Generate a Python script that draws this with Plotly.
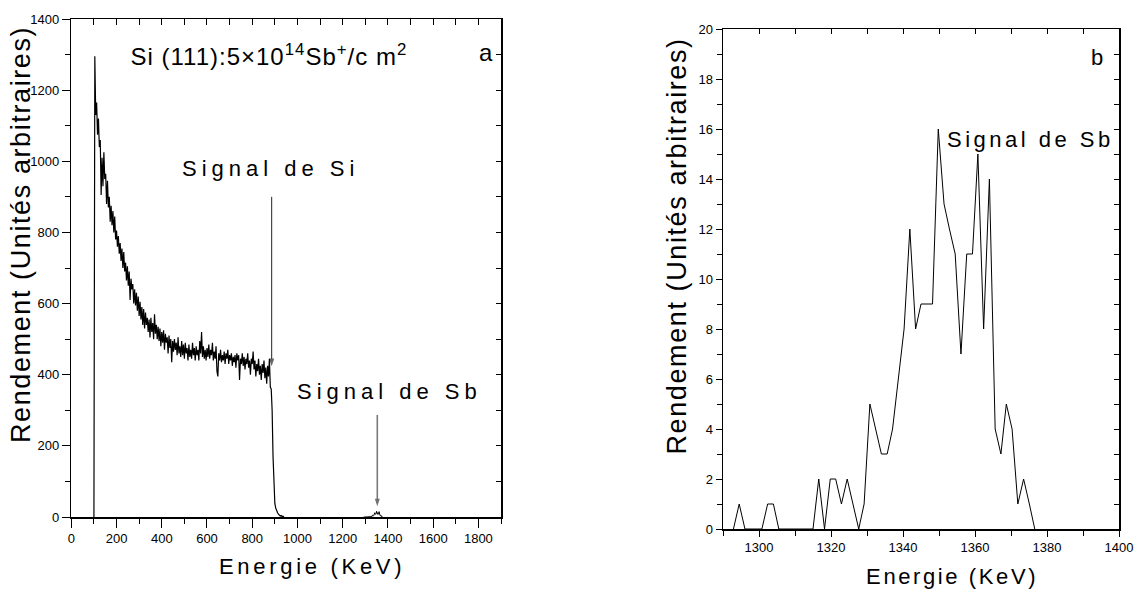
import plotly.graph_objects as go

# ---------------- Data ----------------
# Panel a: RBS spectrum, channels every 4 keV starting at 100 keV
spectrum_start_kev = 100
spectrum_step_kev = 4
spectrum_counts = [
    0, 1295, 1130, 1165, 1075, 1120, 1040, 1060, 905, 1010,
    930, 1025, 950, 965, 880, 945, 870, 900, 830, 875,
    820, 860, 800, 845, 780, 805, 760, 790, 740, 770,
    720, 755, 700, 745, 690, 715, 665, 705, 650, 690,
    610, 670, 640, 655, 600, 640, 595, 630, 580, 620,
    565, 605, 555, 590, 540, 585, 530, 575, 540, 560,
    520, 555, 505, 560, 520, 545, 500, 570, 515, 540,
    500, 535, 495, 530, 480, 520, 490, 525, 470, 515,
    490, 505, 460, 510, 475, 500, 435, 495, 465, 500,
    470, 490, 455, 505, 460, 480, 450, 495, 455, 485,
    445, 490, 460, 475, 440, 485, 450, 470, 445, 490,
    455, 475, 440, 480, 455, 470, 440, 495, 460, 520,
    450, 480, 445, 470, 440, 475, 450, 485, 445, 470,
    455, 490, 440, 465, 445, 480, 410, 395, 460, 440,
    470, 435, 455, 440, 465, 430, 460, 445, 470, 430,
    455, 440, 460, 425, 450, 435, 455, 420, 460, 440,
    455, 385, 445, 430, 460, 425, 450, 415, 445, 430,
    460, 420, 440, 400, 445, 430, 465, 415, 440, 395,
    430, 410, 445, 400, 425, 385, 430, 405, 440, 390,
    420, 375, 425, 395, 445, 365, 360, 300, 170, 80,
    38, 25, 15, 12, 8, 6, 3, 4, 1, 2,
    0,
]

# Panel b: Sb signal (zoom of the same spectrum)
sb_energy = [
    1292.9, 1294.5, 1296.1, 1297.6, 1299.2, 1300.8, 1302.4, 1304.0, 1305.5, 1307.1,
    1308.7, 1310.3, 1311.9, 1313.4, 1315.0, 1316.6, 1318.2, 1319.8, 1321.3, 1322.9,
    1324.5, 1326.1, 1327.7, 1329.2, 1330.8, 1332.4, 1334.0, 1335.6, 1337.1, 1338.7,
    1340.3, 1341.9, 1343.5, 1345.0, 1346.6, 1348.2, 1349.8, 1351.4, 1352.9, 1354.5,
    1356.1, 1357.7, 1359.3, 1360.8, 1362.4, 1364.0, 1365.6, 1367.2, 1368.7, 1370.3,
    1371.9, 1373.5, 1375.1, 1376.6,
]
sb_counts = [
    0, 1, 0, 0, 0, 0, 1, 1, 0, 0,
    0, 0, 0, 0, 0, 2, 0, 2, 2, 1,
    2, 1, 0, 1, 5, 4, 3, 3, 4, 6,
    8, 12, 8, 9, 9, 9, 16, 13, 12, 11,
    7, 11, 11, 15, 8, 14, 4, 3, 5, 4,
    1, 2, 1, 0,
]

left_xticks = [0, 200, 400, 600, 800, 1000, 1200, 1400, 1600, 1800]
left_yticks = [0, 200, 400, 600, 800, 1000, 1200, 1400]
right_xticks = [1300, 1320, 1340, 1360, 1380, 1400]
right_yticks = [0, 2, 4, 6, 8, 10, 12, 14, 16, 18, 20]
left_xrange = [0, 1900]
left_yrange = [0, 1400]
right_xrange = [1290, 1400]
right_yrange = [0, 20]

# Arrow annotations (data units): energy, tail height, head height
si_arrow_energy = [886, 886]
si_arrow_y = [900, 424]
sb_arrow_energy = [1353, 1353]
sb_arrow_y = [287, 30]

# ---------------- Figure ----------------
FONT = "Arial, 'Liberation Sans', sans-serif"
W, H = 1141, 592

fig = go.Figure()

# left panel: spectrum on base axes, Sb bump on overlay axes (top/right inside ticks)
fig.add_trace(go.Scatter(
    x0=spectrum_start_kev, dx=spectrum_step_kev, y=spectrum_counts,
    mode="lines", line=dict(color="black", width=1.2),
    xaxis="x", yaxis="y", showlegend=False, hoverinfo="skip"))
fig.add_trace(go.Scatter(
    x=sb_energy, y=sb_counts, mode="lines",
    line=dict(color="black", width=1),
    xaxis="x3", yaxis="y3", showlegend=False, hoverinfo="skip"))
# arrows
fig.add_trace(go.Scatter(
    x=si_arrow_energy, y=si_arrow_y, mode="lines+markers",
    line=dict(color="#222222", width=1),
    marker=dict(symbol="arrow", angleref="previous", size=[0, 8],
                color="#222222", line=dict(width=0)),
    xaxis="x", yaxis="y", showlegend=False, hoverinfo="skip"))
fig.add_trace(go.Scatter(
    x=sb_arrow_energy, y=sb_arrow_y, mode="lines+markers",
    line=dict(color="#7a7a7a", width=1.6),
    marker=dict(symbol="arrow", angleref="previous", size=[0, 8],
                color="#333333", line=dict(width=0)),
    xaxis="x", yaxis="y", showlegend=False, hoverinfo="skip"))

# right panel
fig.add_trace(go.Scatter(
    x=sb_energy, y=sb_counts, mode="lines",
    line=dict(color="black", width=1),
    xaxis="x2", yaxis="y2", showlegend=False, hoverinfo="skip"))
fig.add_trace(go.Scatter(
    x=sb_energy, y=sb_counts, mode="lines",
    line=dict(color="rgba(0,0,0,0)", width=1),
    xaxis="x4", yaxis="y4", showlegend=False, hoverinfo="skip"))

tickfont = dict(family=FONT, size=13, color="black")

left_dom_x = [71.3 / W, 501 / W]
left_dom_y = [(H - 517) / H, (H - 19) / H]
right_dom_x = [723 / W, 1119 / W]
right_dom_y = [(H - 529) / H, (H - 29) / H]

common_axis = dict(showgrid=False, zeroline=False, showline=True,
                   linecolor="black", linewidth=1.5, mirror=True,
                   tickcolor="black", tickwidth=1, tickfont=tickfont,
                   ticks="outside", automargin=False)
overlay_axis = dict(showgrid=False, zeroline=False, showline=False,
                    showticklabels=False, ticks="inside", tickcolor="black",
                    tickwidth=1, automargin=False)

fig.update_layout(
    width=W, height=H,
    margin=dict(l=0, r=0, t=0, b=0, autoexpand=False),
    paper_bgcolor="white", plot_bgcolor="white",
    font=dict(family=FONT, color="black"),
    xaxis=dict(common_axis, domain=left_dom_x, anchor="y", range=left_xrange,
               tickvals=left_xticks, ticklen=9,
               minor=dict(dtick=100, tick0=0, ticks="outside", ticklen=5,
                          tickcolor="black")),
    yaxis=dict(common_axis, domain=left_dom_y, anchor="x", range=left_yrange,
               tickvals=left_yticks, ticklen=8,
               minor=dict(dtick=100, tick0=0, ticks="outside", ticklen=5,
                          tickcolor="black")),
    xaxis2=dict(common_axis, domain=right_dom_x, anchor="y2", range=right_xrange,
                tickvals=right_xticks, ticklen=6,
                minor=dict(dtick=10, tick0=1290, ticks="outside", ticklen=5,
                           tickcolor="black")),
    yaxis2=dict(common_axis, domain=right_dom_y, anchor="x2", range=right_yrange,
                tickvals=right_yticks, ticklen=6,
                minor=dict(dtick=1, tick0=0, ticks="outside", ticklen=5,
                           tickcolor="black")),
    xaxis3=dict(overlay_axis, overlaying="x", side="top", anchor="y3",
                range=left_xrange, ticklen=6, dtick=100, tick0=0),
    yaxis3=dict(overlay_axis, overlaying="y", side="right", anchor="x3",
                range=left_yrange, ticklen=5, dtick=100, tick0=0),
    xaxis4=dict(overlay_axis, overlaying="x2", side="top", anchor="y4",
                range=right_xrange, ticklen=5, dtick=10, tick0=1290),
    yaxis4=dict(overlay_axis, overlaying="y2", side="right", anchor="x4",
                range=right_yrange, ticklen=5, dtick=1, tick0=0),
)

def txt(text, x, y, size, xref="x", yref="y", angle=0):
    return dict(text=text, x=x, y=y, xref=xref, yref=yref, showarrow=False,
                xanchor="center", yanchor="middle", textangle=angle,
                font=dict(family=FONT, size=size, color="black"))

annotations = [
    # 0
    txt("Si (111):5×10<sup>14</sup>Sb<sup>+</sup>/c m<sup>2</sup>", 873, 1300, 24),
    # 1
    txt("a", 1834, 1305, 24),
    # 2
    txt("Signal de Si", 879, 979, 22),
    # 3
    txt("Signal de Sb", 1405, 352, 22),
    # 4
    txt("b", 1394.0, 18.85, 22, xref="x2", yref="y2"),
    # 5
    txt("Signal de Sb", 1375.3, 15.57, 22, xref="x2", yref="y2"),
    # 6 left x title
    txt("Energie (KeV)", 311.7 / W, (H - 566) / H, 22, xref="paper", yref="paper"),
    # 7 left y title
    txt("Rendement (Unités arbitraires)", 21 / W, (H - 235) / H, 27,
        xref="paper", yref="paper", angle=-90),
    # 8 right x title
    txt("Energie (KeV)", 952 / W, (H - 576.5) / H, 22, xref="paper", yref="paper"),
    # 9 right y title
    txt("Rendement (Unités arbitraires)", 677 / W, (H - 246.5) / H, 27,
        xref="paper", yref="paper", angle=-90),
]
fig.update_layout(annotations=annotations)

css = (
    'html, body { margin: 0; padding: 0; overflow: hidden; } '
    '.annotation[data-index="0"] text { letter-spacing: 1px; } '
    '.annotation[data-index="2"] text { letter-spacing: 5px; } '
    '.annotation[data-index="3"] text { letter-spacing: 5px; } '
    '.annotation[data-index="5"] text { letter-spacing: 3.5px; } '
    '.annotation[data-index="6"] text { letter-spacing: 3.7px; } '
    '.annotation[data-index="7"] text { letter-spacing: 1.6px; } '
    '.annotation[data-index="8"] text { letter-spacing: 2.6px; } '
    '.annotation[data-index="9"] text { letter-spacing: 1.6px; } '
)
post = ("var s=document.createElement('style');s.textContent='" + css
        + "';document.head.appendChild(s);")

fig.write_html("out.html", post_script=post,
               config={"displayModeBar": False, "staticPlot": True})
